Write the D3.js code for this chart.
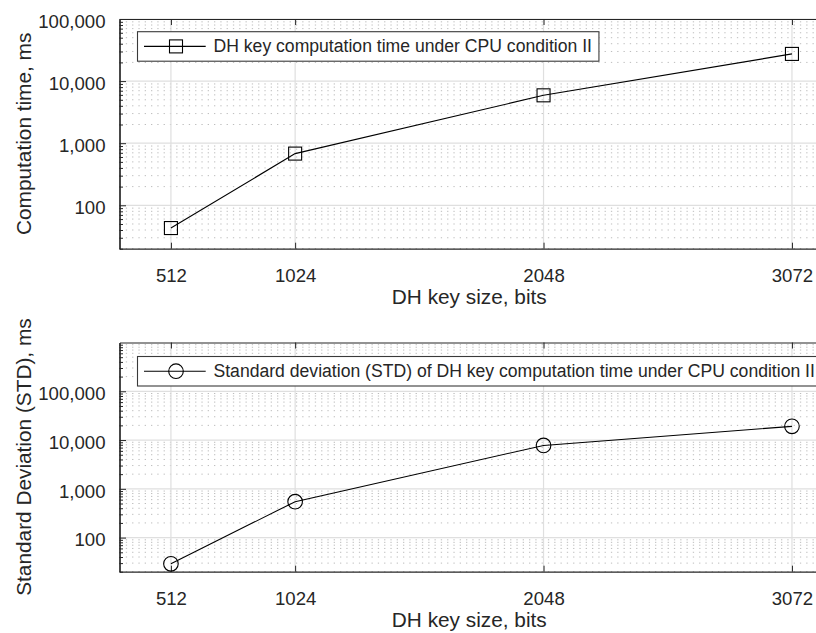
<!DOCTYPE html>
<html>
<head>
<meta charset="utf-8">
<script src="https://cdn.jsdelivr.net/npm/d3@7"></script>
<style>
  body { margin: 0; background: #fff; overflow: hidden; }
  svg { display: block; }
  text { font-family: "Liberation Sans", Arial, Helvetica, sans-serif; fill: #262626; }
</style>
</head>
<body>
<div class="chart"></div>
<script>
  // Data
  let keySizes = [512, 1024, 2048, 3072];
  let compTime = [43, 680, 5900, 27400];
  let stdTime = [29, 546, 7760, 19100];
  let xTicks = [512, 1024, 2048, 3072];
  let topYTicks = [100, 1000, 10000, 100000];
  let botYTicks = [100, 1000, 10000, 100000];
  let xLabel = "DH key size, bits";
  let topYLabel = "Computation time, ms";
  let botYLabel = "Standard Deviation (STD), ms";
  let topLegend = "DH key computation time under CPU condition II";
  let botLegend = "Standard deviation (STD) of DH key computation time under CPU condition II";

  let W = 816, H = 633;
  let svg = d3.select("div.chart").append("svg")
      .attr("width", W)
      .attr("height", H);

  let axisColor = "#262626";
  let left = 119.5, right = 823;
  let fmt = d3.format(",");

  function drawPanel(opts) {
    let x = d3.scaleLinear().domain([300, 3200]).range([left, right]);
    let y = d3.scaleLog().domain(opts.yDomain).range([opts.bottom, opts.top]);
    let g = svg.append("g");

    // minor grid (dotted), log minor ticks
    let minors = [];
    let lo = Math.floor(Math.log10(opts.yDomain[0])), hi = Math.ceil(Math.log10(opts.yDomain[1]));
    for (let e = lo; e < hi; e++) {
      for (let k = 2; k <= 9; k++) {
        let v = k * Math.pow(10, e);
        if (v >= opts.yDomain[0] && v <= opts.yDomain[1]) minors.push(v);
      }
    }
    g.selectAll("line.minor").data(minors).enter().append("line")
      .attr("class", "minor")
      .attr("x1", left).attr("x2", right)
      .attr("y1", d => y(d)).attr("y2", d => y(d))
      .attr("stroke", "#bdbdbd")
      .attr("stroke-width", 1)
      .attr("stroke-dasharray", "1.3 5");

    // major grid
    g.selectAll("line.gy").data(opts.yTicks).enter().append("line")
      .attr("x1", left).attr("x2", right)
      .attr("y1", d => y(d)).attr("y2", d => y(d))
      .attr("stroke", "#dfdfdf").attr("stroke-width", 1.2);
    g.selectAll("line.gx").data(xTicks).enter().append("line")
      .attr("x1", d => x(d)).attr("x2", d => x(d))
      .attr("y1", opts.top).attr("y2", opts.bottom)
      .attr("stroke", "#dfdfdf").attr("stroke-width", 1.2);

    // axes via d3 axis generators (ticks inward)
    let yAxis = d3.axisLeft(y).tickValues(opts.yTicks).tickFormat(fmt).tickSizeInner(-6.5).tickSizeOuter(0).tickPadding(14);
    let yMinor = d3.axisLeft(y).tickValues(minors).tickFormat("").tickSizeInner(-3.5).tickSizeOuter(0);
    let xAxis = d3.axisBottom(x).tickValues(xTicks).tickFormat(d3.format("d")).tickSizeInner(-6).tickSizeOuter(0).tickPadding(20);
    let xTop = d3.axisTop(x).tickValues(xTicks).tickFormat("").tickSizeInner(-6).tickSizeOuter(0);

    let ya = g.append("g").attr("transform", "translate(" + left + ",0)").call(yAxis);
    g.append("g").attr("transform", "translate(" + left + ",0)").call(yMinor);
    let xa = g.append("g").attr("transform", "translate(0," + opts.bottom + ")").call(xAxis);
    g.append("g").attr("transform", "translate(0," + opts.top + ")").call(xTop);

    g.selectAll(".domain, .tick line").attr("stroke", axisColor);
    g.selectAll(".domain").attr("stroke-width", 1.2);
    ya.selectAll("text").style("font-size", "18.6px").attr("fill", axisColor).attr("dy", "0.45em");
    xa.selectAll("text").style("font-size", "18.6px").attr("fill", axisColor).attr("dy", "0.71em");

    // axis labels
    g.append("text")
      .attr("x", (left + 821) / 2 - 1)
      .attr("y", opts.bottom + 55)
      .attr("text-anchor", "middle")
      .style("font-size", "20.8px")
      .text(xLabel);
    g.append("text")
      .attr("transform", "translate(31," + ((opts.top + opts.bottom) / 2) + ") rotate(-90)")
      .attr("text-anchor", "middle")
      .style("font-size", "20.8px")
      .text(opts.yLabel);

    // series
    let pts = keySizes.map((k, i) => [k, opts.values[i]]);
    g.append("path")
      .datum(pts)
      .attr("fill", "none")
      .attr("stroke", "#000")
      .attr("stroke-width", 1.1)
      .attr("d", d3.line().x(d => x(d[0])).y(d => y(d[1])));

    drawMarker(g, opts.marker, pts.map(d => [x(d[0]), y(d[1])]));

    // legend
    let lg = g.append("g");
    let ly = opts.legendY;
    let lt = lg.append("text")
      .attr("x", 213.5)
      .attr("y", ly + 14.7 + 6)
      .style("font-size", "17.6px")
      .attr("fill", "#000")
      .text(opts.legend);
    let tw = lt.node().getComputedTextLength();
    lg.insert("rect", "text")
      .attr("x", 137.5).attr("y", ly)
      .attr("width", 213.5 + tw + 7 - 137.5)
      .attr("height", 29.5)
      .attr("fill", "#fff")
      .attr("stroke", "#3a3a3a")
      .attr("stroke-width", 1.1);
    lg.append("line")
      .attr("x1", 144).attr("x2", 205.7)
      .attr("y1", ly + 14.7).attr("y2", ly + 14.7)
      .attr("stroke", "#000").attr("stroke-width", 1.1);
    drawMarker(lg, opts.marker, [[176, ly + 14.7]]);
  }

  function drawMarker(g, kind, pts) {
    if (kind === "square") {
      g.selectAll(null).data(pts).enter().append("rect")
        .attr("x", d => d[0] - 6.5).attr("y", d => d[1] - 6.5)
        .attr("width", 13).attr("height", 13)
        .attr("fill", "none").attr("stroke", "#000").attr("stroke-width", 1.1);
    } else {
      g.selectAll(null).data(pts).enter().append("circle")
        .attr("cx", d => d[0]).attr("cy", d => d[1])
        .attr("r", 7.3)
        .attr("fill", "none").attr("stroke", "#000").attr("stroke-width", 1.1);
    }
  }

  drawPanel({
    top: 19, bottom: 248.7,
    yDomain: [20, 100000],
    yTicks: topYTicks,
    values: compTime,
    marker: "square",
    yLabel: topYLabel,
    legend: topLegend,
    legendY: 31.7
  });

  drawPanel({
    top: 342.5, bottom: 571.7,
    yDomain: [20, 1000000],
    yTicks: botYTicks,
    values: stdTime,
    marker: "circle",
    yLabel: botYLabel,
    legend: botLegend,
    legendY: 356.5
  });
</script>
</body>
</html>
